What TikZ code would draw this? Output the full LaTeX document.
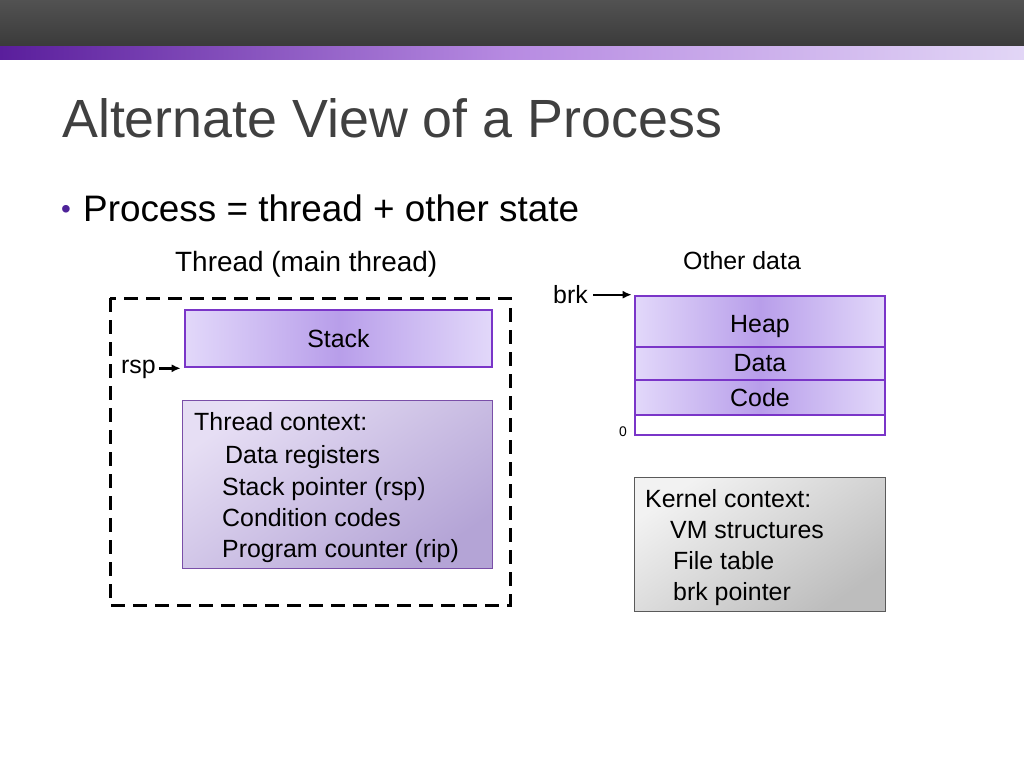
\documentclass[tikz,border=0pt]{standalone}
\usepackage{fontspec}
\setmainfont{Liberation Sans}
\usetikzlibrary{arrows.meta}
\definecolor{barDark}{HTML}{3A3A3A}
\definecolor{barLight}{HTML}{525252}
\definecolor{pA}{HTML}{5A1E9C}
\definecolor{pB}{HTML}{B78BE2}
\definecolor{pC}{HTML}{E2D6F6}
\definecolor{titleGray}{HTML}{404040}
\definecolor{memBorder}{HTML}{7A35C8}
\definecolor{memEdge}{HTML}{E2D8FA}
\definecolor{memMid}{HTML}{B89EEA}
\definecolor{ctxBorder}{HTML}{7A4FA8}
\definecolor{ctxLight}{HTML}{E6DEF4}
\definecolor{ctxDark}{HTML}{B4A4D6}
\definecolor{kLight}{HTML}{F2F2F2}
\definecolor{kDark}{HTML}{BDBDBD}
\definecolor{kBorder}{HTML}{5A5A5A}
\definecolor{bulletPurple}{HTML}{4E2399}
\tikzset{
  txt/.style={anchor=base west, inner sep=0pt, font=\fontsize{25}{30}\selectfont},
  membox/.style={draw=memBorder, line width=2.6bp, minimum width=250bp, inner sep=0pt,
    left color=memEdge, right color=memEdge, middle color=memMid, font=\fontsize{25}{30}\selectfont},
  ptr/.style={line width=2.4bp, -{Latex[length=9bp,width=8bp]}},
}
\begin{document}
\begin{tikzpicture}[x=1bp,y=-1bp]
\useasboundingbox (0,0) rectangle (1024,768);
% top bars
\shade[top color=barLight, bottom color=barDark] (0,0) rectangle (1024,47);
\shade[left color=pA, right color=pC, middle color=pB] (0,47) rectangle (1024,60);
% title
\node[anchor=base west, inner sep=0pt, text=titleGray, font=\fontsize{54}{60}\selectfont] (title) at (62,137) {Alternate View of a Process};
\node[anchor=base west, inner sep=0pt, text=bulletPurple, font=\fontsize{28}{32}\selectfont] (bullet) at (61,218) {•};
\node[anchor=base west, inner sep=0pt, font=\fontsize{37}{44}\selectfont] (proc) at (83,221) {Process = thread + other state};
\node[anchor=base west, inner sep=0pt, font=\fontsize{28}{34}\selectfont] (thr) at (175,271) {Thread (main thread)};
\node[anchor=base west, inner sep=0pt, font=\fontsize{25}{30}\selectfont] (other) at (683,269) {Other data};
% dashed thread boundary
\draw[line width=3bp, dash pattern=on 14bp off 8bp] (110,298) rectangle (510,605);
% stack
\node[membox, minimum width=307bp, minimum height=57bp] (stack) at (338.5,338.5) {Stack};
\node[anchor=base west, inner sep=0pt, font=\fontsize{25}{30}\selectfont] (rsp) at (121,373) {rsp};
\draw[ptr] ([xshift=3bp]rsp.east |- stack.south west) -- ([xshift=-3bp]stack.south west);
% thread context
\node[draw=ctxBorder, line width=0.8bp, minimum width=310bp, minimum height=168bp, inner sep=0pt,
  shading=axis, top color=ctxLight, bottom color=ctxDark, shading angle=35] (tctx) at (337,484) {};
\node[txt] (t1) at (194,430) {Thread context:};
\node[txt] (t2) at (225,463) {Data registers};
\node[txt] (t3) at (222,495) {Stack pointer (rsp)};
\node[txt] (t4) at (222,526) {Condition codes};
\node[txt] (t5) at (222,557) {Program counter (rip)};
% memory
\node[membox, minimum height=51bp, text height=26bp, text depth=5bp] (heap) at (760,321.5) {Heap};
\node[membox, minimum height=33bp] (data) at (760,363.5) {Data};
\node[membox, minimum height=35bp] (code) at (760,397.5) {Code};
\node[draw=memBorder, line width=2.6bp, minimum width=250bp, minimum height=20bp, inner sep=0pt, fill=white] (empty) at (760,425) {};
\node[anchor=base west, inner sep=0pt, font=\fontsize{14}{16}\selectfont] (zero) at (619,436) {0};
\node[anchor=base west, inner sep=0pt, font=\fontsize{25}{30}\selectfont] (brk) at (553,303) {brk};
\draw[ptr] ([xshift=5bp]brk.east |- heap.north west) -- ([xshift=-2bp]heap.north west);
% kernel context
\node[draw=kBorder, line width=0.8bp, minimum width=251bp, minimum height=134bp, inner sep=0pt,
  shading=axis, top color=kLight, bottom color=kDark, shading angle=35] (kctx) at (759.5,544) {};
\node[txt] (k1) at (645,507) {Kernel context:};
\node[txt] (k2) at (670,538) {VM structures};
\node[txt] (k3) at (673,569) {File table};
\node[txt] (k4) at (673,600) {brk pointer};
\end{tikzpicture}
\end{document}
